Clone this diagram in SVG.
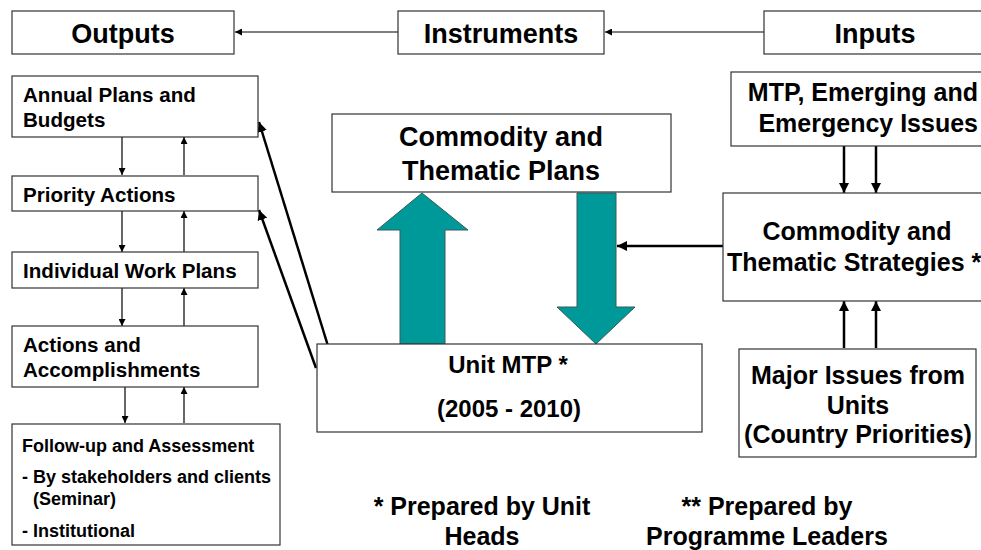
<svg xmlns="http://www.w3.org/2000/svg" width="981" height="550" viewBox="0 0 981 550">
<style>
.box{fill:#fff;stroke:#333;stroke-width:1.2}
text{font-family:"Liberation Sans",Arial,sans-serif;font-weight:bold;fill:#000}
.t27{font-size:27px}
.t25{font-size:25px}
.t24{font-size:24px}
.t20{font-size:20.6px}
.t17{font-size:18px}
.c{text-anchor:middle}
.thin{stroke:#000;stroke-width:1.2;fill:none}
.thick{stroke:#000;stroke-width:2.5;fill:none}
.teal{fill:#009999;stroke:#3a5a5a;stroke-width:1}
</style>
<defs>
<marker id="ah" viewBox="0 0 10 10" refX="10" refY="5" markerWidth="7" markerHeight="7" markerUnits="userSpaceOnUse" orient="auto">
<path d="M0,0 L10,5 L0,10 z" fill="#000"/>
</marker>
<marker id="ahb" viewBox="0 0 10 10" refX="10" refY="5" markerWidth="10" markerHeight="10" markerUnits="userSpaceOnUse" orient="auto">
<path d="M0,0 L10,5 L0,10 z" fill="#000"/>
</marker>
</defs>

<g id="connectors">
<line class="thin" x1="398" y1="32" x2="235" y2="32" marker-end="url(#ah)"/>
<line class="thin" x1="764" y1="32" x2="605" y2="32" marker-end="url(#ah)"/>
<line class="thin" x1="122" y1="137" x2="122" y2="175" marker-end="url(#ah)"/>
<line class="thin" x1="184" y1="175" x2="184" y2="137" marker-end="url(#ah)"/>
<line class="thin" x1="122" y1="211" x2="122" y2="252" marker-end="url(#ah)"/>
<line class="thin" x1="184" y1="252" x2="184" y2="211" marker-end="url(#ah)"/>
<line class="thin" x1="122" y1="288" x2="122" y2="326" marker-end="url(#ah)"/>
<line class="thin" x1="184" y1="326" x2="184" y2="288" marker-end="url(#ah)"/>
<line class="thin" x1="125" y1="387" x2="125" y2="423" marker-end="url(#ah)"/>
<line class="thin" x1="184" y1="423" x2="184" y2="387" marker-end="url(#ah)"/>
<line class="thick" x1="328" y1="346" x2="259" y2="122" marker-end="url(#ahb)"/>
<line class="thick" x1="316" y1="368" x2="259" y2="210" marker-end="url(#ahb)"/>
<line class="thick" x1="723" y1="246" x2="617" y2="246" marker-end="url(#ahb)"/>
<line class="thick" x1="844" y1="146" x2="844" y2="193" marker-end="url(#ahb)"/>
<line class="thick" x1="876" y1="146" x2="876" y2="193" marker-end="url(#ahb)"/>
<line class="thick" x1="844" y1="348" x2="844" y2="301" marker-end="url(#ahb)"/>
<line class="thick" x1="876" y1="348" x2="876" y2="301" marker-end="url(#ahb)"/>
<path class="teal" d="M400,344 L400,230 L377,230 L422,193 L468,230 L445,230 L445,344 Z"/>
<path class="teal" d="M577,193 L616,193 L616,307 L635,307 L596,344 L557,307 L577,307 Z"/>
</g>

<g id="outputs"><rect class="box" x="12" y="11" width="222" height="43"/><text class="t27 c" x="123" y="43">Outputs</text></g>
<g id="instruments"><rect class="box" x="398" y="11" width="206" height="43"/><text class="t27 c" x="501" y="43">Instruments</text></g>
<g id="inputs"><rect class="box" x="764" y="11" width="240" height="43"/><text class="t27 c" x="875" y="43">Inputs</text></g>

<g id="annual"><rect class="box" x="12" y="76" width="246" height="61"/><text class="t20" x="23" y="102">Annual Plans and</text><text class="t20" x="23" y="127">Budgets</text></g>
<g id="priority"><rect class="box" x="12" y="176" width="246" height="35"/><text class="t20" x="23" y="202">Priority Actions</text></g>
<g id="individual"><rect class="box" x="12" y="252" width="246" height="36"/><text class="t20" x="23" y="278">Individual Work Plans</text></g>
<g id="actions"><rect class="box" x="12" y="326" width="246" height="61"/><text class="t20" x="23" y="352">Actions and</text><text class="t20" x="23" y="377">Accomplishments</text></g>
<g id="followup"><rect class="box" x="12" y="424" width="268" height="121"/>
<text class="t17" x="22" y="452">Follow-up and Assessment</text>
<text class="t17" x="22" y="483">- By stakeholders and clients</text>
<text class="t17" x="33" y="505">(Seminar)</text>
<text class="t17" x="22" y="537">- Institutional</text></g>

<g id="plans"><rect class="box" x="332" y="114" width="339" height="78"/><text class="t27 c" x="501" y="146">Commodity and</text><text class="t27 c" x="501" y="180">Thematic Plans</text></g>
<g id="unitmtp"><rect class="box" x="317" y="344" width="385" height="88"/><text class="t24 c" x="508" y="373">Unit MTP *</text><text class="t24 c" x="509" y="417">(2005 - 2010)</text></g>

<g id="mtp"><rect class="box" x="731" y="72" width="270" height="74"/><text class="t25" text-anchor="end" x="978" y="101">MTP, Emerging and</text><text class="t25" text-anchor="end" x="978" y="132">Emergency Issues</text></g>
<g id="strategies"><rect class="box" x="723" y="193" width="280" height="108"/><text class="t25 c" x="857" y="240">Commodity and</text><text class="t25" x="727" y="271">Thematic Strategies **</text></g>
<g id="major"><rect class="box" x="739" y="349" width="237" height="108"/><text class="t25 c" x="858" y="384">Major Issues from</text><text class="t25 c" x="858" y="414">Units</text><text class="t25 c" x="858" y="443">(Country Priorities)</text></g>

<g id="footnote1"><text class="t25 c" x="482" y="515">* Prepared by Unit</text><text class="t25 c" x="482" y="545">Heads</text></g>
<g id="footnote2"><text class="t25 c" x="767" y="515">** Prepared by</text><text class="t25 c" x="767" y="545">Programme Leaders</text></g>
</svg>
